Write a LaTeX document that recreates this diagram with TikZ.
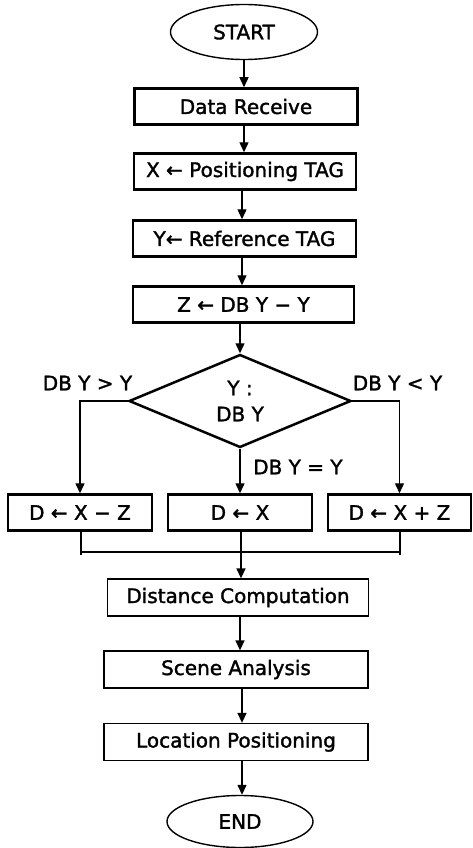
\documentclass[tikz,border=0pt]{standalone}
\usepackage{fontspec}
\setmainfont{DejaVu Sans}[BoldFont=DejaVu Sans, BoldFeatures={FakeBold=1.6}]
\usetikzlibrary{shapes.geometric,arrows.meta}
\begin{document}
\begin{tikzpicture}[x=1pt,y=-1pt,
  every node/.style={font=\fontsize{20}{26}\selectfont\bfseries, inner sep=0pt, text=black},
  thickbox/.style={draw, rectangle, line width=2.5pt, minimum height=36pt},
  thinbox/.style={draw, rectangle, line width=1.3pt, minimum width=264pt, minimum height=37pt},
  term/.style={draw, ellipse, line width=1.4pt},
  decision/.style={draw, diamond, line width=2.5pt, minimum width=222pt, minimum height=93pt, align=center},
  arr/.style={line width=1.4pt, -{Triangle[width=9pt,length=10pt]}},
  link/.style={line width=1.3pt},
  cond/.style={font=\fontsize{20}{24}\selectfont\bfseries}]

\useasboundingbox (0,0) rectangle (473,848);

% main chain
\node[term, minimum width=147pt, minimum height=55pt] (start) at (244,32) {START};
\node[thickbox, minimum width=223pt] (recv) at (246,106.5) {Data Receive};
\node[thickbox, minimum width=222pt] (pos) at (245,171.5) {X ← Positioning TAG};
\node[thickbox, minimum width=223pt] (ref) at (244.5,238.5) {Y← Reference TAG};
\node[thickbox, minimum width=221pt] (zdb) at (243.5,304.5) {Z ← DB Y − Y};

% decision
\node[decision] (dia) at (240,401) {Y :\\DB Y};

% three branch results
\node[thickbox, minimum width=144pt] (dl) at (80,512.5) {D ← X − Z};
\node[thickbox, minimum width=144pt] (dm) at (240,512.5) {D ← X};
\node[thickbox, minimum width=143pt] (dr) at (399.5,512.5) {D ← X + Z};

% lower chain
\node[thinbox, minimum width=261pt] (dist) at (238,597.5) {Distance Computation};
\node[thinbox] (scene) at (236,669.5) {Scene Analysis};
\node[thinbox] (loc) at (236,742) {Location Positioning};
\node[term, minimum width=146pt, minimum height=52pt] (end) at (240,821.5) {END};

% branch condition labels
\node[cond] (lgt) at (87.5,383) {DB Y > Y};
\node[cond] (llt) at (397.5,383) {DB Y < Y};
\node[cond, anchor=west] (leq) at (253,467) {DB Y = Y};

% connectors of the upper chain
\draw[arr] (start.south) -- (start.south |- recv.north);
\draw[arr] (recv.south -| start.south) -- (start.south |- pos.north);
\draw[arr] (pos.south -| 242,0) -- (242,0 |- ref.north);
\draw[arr] (ref.south -| 242,0) -- (242,0 |- zdb.north);
\draw[arr] (zdb.south -| dia.north) -- (dia.north);

% decision outputs
\draw[arr] (dia.west) -| (dl.north);
\draw[arr] (dia.east) -| (dr.north);
\draw[arr] (dia.south) -- (dm.north);

% merge of the three results
\coordinate (mg) at (241,552);
\draw[link] (81,0 |- dl.south) -- (81,555);
\draw[link] (400,0 |- dr.south) -- (400,555);
\draw[link] (81,552) -- (400,552);
\draw[link] (dm.south -| mg) -- (mg);
\draw[arr] (mg) -- (mg |- dist.north);

% connectors of the lower chain
\draw[arr] (dist.south -| 240,0) -- (240,0 |- scene.north);
\draw[arr] (scene.south -| 242,0) -- (242,0 |- loc.north);
\draw[arr] (loc.south -| 242,0) -- (242,0 |- end.north);
\end{tikzpicture}
\end{document}
